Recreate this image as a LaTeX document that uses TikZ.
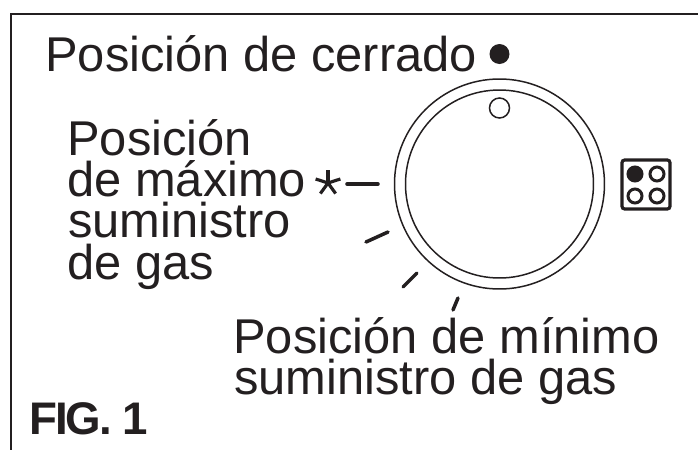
\documentclass[tikz,border=0pt]{standalone}
\usepackage{fontspec}
\setmainfont{Liberation Sans}
\usepackage{tikz}
\definecolor{ink}{RGB}{35, 31, 32}
\tikzset{
    label/.style={anchor=base west, inner sep=0pt, text=ink, align=left, font=\fontsize{27.8}{23.4}\selectfont},
    figlabel/.style={anchor=base west, inner sep=0pt, text=ink, font=\fontsize{26}{28}\selectfont\bfseries\addfontfeature{LetterSpace=-4.5}},
    ring/.style={draw=ink, line width=0.85pt},
    tick/.style={draw=ink, line width=2pt, line cap=round},
    burner/.style={draw=ink, line width=1.7pt}
}
\begin{document}
\begin{tikzpicture}[x=0.02cm, y=-0.02cm]
    \useasboundingbox (0,0) rectangle (698,450);
    % Frame, open on the right and at the bottom
    \coordinate (frameTop) at (698,14);
    \coordinate (frameCorner) at (11,14);
    \coordinate (frameBottom) at (11,450);
    \draw[ink, line width=1.2pt] (frameTop) -- (frameCorner) -- (frameBottom);

    % Labels
    \node[label] (closedText) at (45,71) {Posición de cerrado};
    \node[label] (maxText1) at (67,155) {Posición};
    \node[label] (maxText2) at (67,196) {de máximo};
    \node[label] (maxText3) at (68,237) {suministro};
    \node[label] (maxText4) at (67,279) {de gas};
    \node[label] (minText1) at (233,353) {Posición de mínimo};
    \node[label] (minText2) at (234,394) {suministro de gas};
    \node[figlabel] (figText) at (29,434) {FIG. 1};

    % Knob
    \node[ring, circle, minimum size=0.02cm*210, inner sep=0pt] (knobOuter) at (499.5,184) {};
    \node[ring, circle, minimum size=0.02cm*188, inner sep=0pt] (knobInner) at (499.5,184) {};
    \node[ring, circle, minimum size=0.02cm*20, inner sep=0pt] (knobMark) at (499.5,108) {};
    \node[circle, fill=ink, minimum size=0.02cm*20, inner sep=0pt] (closedDot) at (499.5,54) {};

    % Ticks round the knob
    \draw[tick] (347,184) -- (378,184);
    \draw[tick] (366,242) -- (388,232);
    \draw[tick] (403,287) -- (417,273);
    \draw[tick] (453,310) -- (458,298);

    % Star at maximum
    \foreach \a in {90,162,234,306,18}
        \draw[ink, line width=1.8pt] (328,183) -- ++(\a:13 and -13);

    % Hob symbol
    \draw[ink, line width=1.8pt, rounded corners=1.5pt] (622,160) rectangle (670,209);
    \node[burner, circle, fill=ink, minimum size=0.02cm*14, inner sep=0pt] (burnerA) at (635,174) {};
    \node[burner, circle, minimum size=0.02cm*14, inner sep=0pt] (burnerB) at (657,174) {};
    \node[burner, circle, minimum size=0.02cm*14, inner sep=0pt] (burnerC) at (635,196) {};
    \node[burner, circle, minimum size=0.02cm*14, inner sep=0pt] (burnerD) at (657,196) {};
\end{tikzpicture}
\end{document}
